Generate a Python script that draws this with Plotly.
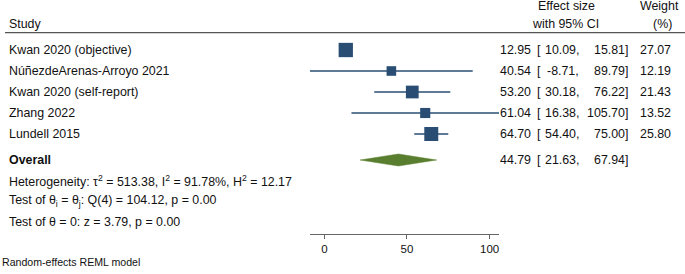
import math
import plotly.graph_objects as go

# ---------------- data ----------------
studies = ["Kwan 2020 (objective)", "NúñezdeArenas-Arroyo 2021", "Kwan 2020 (self-report)",
           "Zhang 2022", "Lundell 2015"]
effect = [12.95, 40.54, 53.20, 61.04, 64.70]
lower = [10.09, -8.71, 30.18, 16.38, 54.40]
upper = [15.81, 89.79, 76.22, 105.70, 75.00]
weight = [27.07, 12.19, 21.43, 13.52, 25.80]
overall_est, overall_lo, overall_hi = 44.79, 21.63, 67.94
x_ticks = [0, 50, 100]
stats_lines = [
    "Heterogeneity: τ<sup>2</sup> = 513.38, I<sup>2</sup> = 91.78%, H<sup>2</sup> = 12.17",
    "Test of θ<sub>i</sub> = θ<sub>j</sub>: Q(4) = 104.12, p = 0.00",
    "Test of θ = 0: z = 3.79, p = 0.00",
]
footnote = "Random-effects REML model"

# ---------------- layout helpers ----------------
W, H = 685, 274
FONT = "Liberation Sans, Arial, sans-serif"
NAVY = "#2A4E73"
GREEN = "#5A7E2F"
ROW0, ROWH = 50, 21          # pixel of first row, row spacing
AX_BOTTOM = 234              # pixel of x axis line


def px_row(p):
    return (p - ROW0) / ROWH


def xp(px):
    return px / W


def yp(py):
    return (H - py) / H


rows = list(range(len(studies)))
overall_row = px_row(160)
stats_rows = [px_row(181), px_row(201), px_row(222)]

fig = go.Figure()

# CI lines
for r, lo, hi in zip(rows, lower, upper):
    fig.add_trace(go.Scatter(x=[lo, hi], y=[r, r], mode="lines",
                             line=dict(color=NAVY, width=1.4), hoverinfo="skip"))

# weighted squares
fig.add_trace(go.Scatter(x=effect, y=rows, mode="markers",
                         marker=dict(symbol="square", color=NAVY, opacity=1,
                                     size=[2.75 * math.sqrt(w) for w in weight],
                                     line=dict(width=0)),
                         hoverinfo="skip"))

# overall diamond
dh = 0.285
fig.add_trace(go.Scatter(
    x=[overall_lo, overall_est, overall_hi, overall_est, overall_lo],
    y=[overall_row, overall_row - dh, overall_row, overall_row + dh, overall_row],
    mode="lines", fill="toself", fillcolor=GREEN, line=dict(color=GREEN, width=0.5),
    hoverinfo="skip"))

ann = []


def add(text, x, y, anchor="left", yref="y", size=12.4, color="#111"):
    ann.append(dict(text=text, x=x, y=y, xref="paper", yref=yref, xanchor=anchor,
                    yanchor="middle", showarrow=False,
                    font=dict(family=FONT, size=size, color=color)))


# headers
add("Study", xp(7), yp(23.5), yref="paper")
add("Effect size", xp(566), yp(6), anchor="center", yref="paper")
add("with 95% CI", xp(565), yp(23.5), anchor="center", yref="paper")
add("Weight", xp(659), yp(6), anchor="center", yref="paper")
add("(%)", xp(662.5), yp(23.5), anchor="center", yref="paper")


def es_cols(r, est, lo, hi):
    add(f"{est:.2f}", xp(533), r, anchor="right")
    add("[", xp(534.5), r, anchor="left")
    add(f"{lo:.2f},", xp(580.5), r, anchor="right")
    add(f"{hi:.2f}]", xp(630), r, anchor="right")


for r, name, est, lo, hi, w in zip(rows, studies, effect, lower, upper, weight):
    add(name, xp(7), r)
    es_cols(r, est, lo, hi)
    add(f"{w:.2f}", xp(673), r, anchor="right")

add("<b>Overall</b>", xp(7), overall_row)
es_cols(overall_row, overall_est, overall_lo, overall_hi)
for r, t in zip(stats_rows, stats_lines):
    add(t, xp(7), r)
add(footnote, xp(0), yp(262), yref="paper", size=10.6)

xmin, xmax = min(lower), max(upper)

fig.update_layout(
    width=W, height=H,
    margin=dict(l=0, r=0, t=0, b=0),
    paper_bgcolor="white", plot_bgcolor="white",
    showlegend=False,
    annotations=ann,
    shapes=[dict(type="line", xref="paper", yref="paper", x0=xp(5), x1=1,
                 y0=yp(32.7), y1=yp(32.7), line=dict(color="#555", width=1.2))],
    xaxis=dict(domain=[xp(310), xp(499)], range=[xmin, xmax],
               tickvals=x_ticks, ticks="outside", ticklen=4, tickcolor="#666",
               showline=True, linecolor="#666", linewidth=1.2,
               showgrid=False, zeroline=False,
               tickfont=dict(family=FONT, size=11.5, color="#111"),
               fixedrange=True),
    yaxis=dict(domain=[yp(AX_BOTTOM), 1],
               range=[px_row(AX_BOTTOM), px_row(0)],
               visible=False, showgrid=False, zeroline=False, fixedrange=True),
)

fig.write_html("out.html", config={"displayModeBar": False},
               post_script="document.body.style.margin='0';document.body.style.overflow='hidden';")
